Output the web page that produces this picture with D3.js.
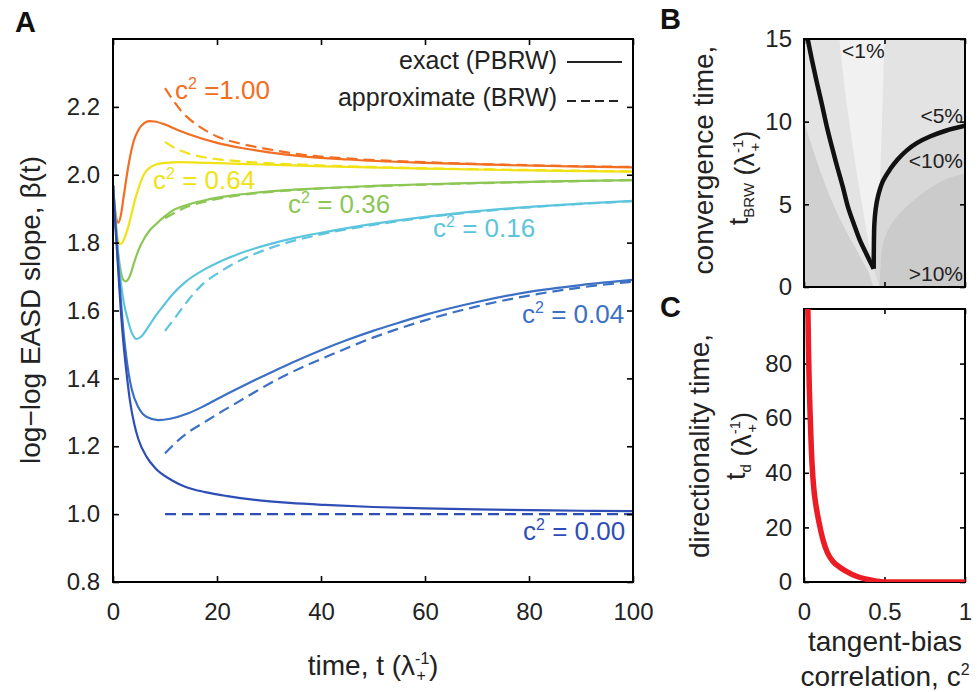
<!DOCTYPE html>
<html><head><meta charset="utf-8">
<script src="https://cdn.jsdelivr.net/npm/d3@7"></script>
<style>body{margin:0;background:#fff}svg{display:block}text{font-family:"Liberation Sans",Arial,sans-serif}</style>
</head><body><svg id="c" width="979" height="692"></svg>
<script>
// ---------- Panel A data: [time, beta] ----------
const exact100 = [[0,1.97],[0.5,1.885],[1,1.859],[1.5,1.88],[2,1.93],[3,2.03],[4,2.10],[5,2.135],[6,2.152],[7,2.158],[8,2.157],[10,2.148],[12,2.135],[15,2.117],[20,2.094],[25,2.078],[30,2.066],[36,2.055],[45,2.045],[60,2.035],[77,2.028],[90,2.024],[100,2.022]];
const approx100 = [[10,2.255],[11,2.232],[12,2.21],[13,2.19],[15,2.16],[17,2.138],[20,2.113],[25,2.09],[30,2.075],[36,2.06],[45,2.048],[60,2.037],[80,2.028],[100,2.023]];
const exact064 = [[0,1.97],[0.5,1.87],[1,1.805],[1.35,1.796],[1.8,1.80],[2.3,1.817],[3,1.85],[3.6,1.887],[4.2,1.925],[4.8,1.955],[5.4,1.982],[6.1,2.005],[7,2.02],[8,2.029],[10,2.035],[13,2.037],[16,2.036],[20,2.034],[27,2.031],[36,2.027],[45,2.023],[60,2.018],[80,2.013],[100,2.009]];
const approx064 = [[10,2.097],[12,2.078],[14.2,2.064],[17,2.053],[20,2.046],[25,2.039],[29.6,2.034],[36,2.03],[45,2.025],[60,2.019],[80,2.014],[100,2.01]];
const exact036 = [[0,1.97],[0.5,1.86],[1,1.77],[1.5,1.715],[2,1.69],[2.5,1.686],[3.2,1.70],[4,1.738],[4.9,1.778],[6,1.812],[7,1.835],[8.1,1.852],[10,1.878],[11.3,1.893],[14,1.91],[17.7,1.925],[22,1.937],[27.3,1.947],[35,1.956],[40.8,1.961],[50,1.967],[60,1.972],[70,1.976],[80,1.979],[90,1.982],[100,1.984]];
const approx036 = [[10,1.872],[12,1.889],[14,1.904],[17.7,1.921],[22,1.934],[27.3,1.945],[35,1.955],[50,1.966],[70,1.975],[100,1.984]];
const exact016 = [[0,1.97],[0.5,1.86],[1,1.76],[1.5,1.685],[2,1.63],[2.9,1.57],[3.6,1.535],[4.55,1.516],[5.5,1.524],[6.5,1.545],[8.1,1.582],[10,1.62],[11.3,1.645],[14,1.685],[17.7,1.722],[20,1.74],[24,1.766],[30.5,1.797],[35,1.814],[40.8,1.831],[50,1.855],[61.6,1.879],[70,1.893],[80.8,1.906],[90,1.915],[100,1.923]];
const approx016 = [[10,1.54],[12,1.58],[14.5,1.631],[17,1.674],[20.9,1.717],[24,1.744],[27.3,1.767],[32,1.793],[40.8,1.827],[50,1.852],[61.6,1.877],[80,1.904],[100,1.922]];
const exact004 = [[0,1.97],[0.5,1.85],[1,1.74],[1.5,1.63],[2,1.54],[2.5,1.47],[3,1.415],[3.6,1.368],[4.9,1.314],[6.5,1.286],[8.7,1.277],[11,1.281],[14.5,1.297],[17.7,1.32],[20.9,1.346],[24,1.37],[27.3,1.395],[31,1.422],[34.4,1.446],[40,1.483],[45,1.513],[50,1.54],[55,1.564],[60,1.587],[70,1.625],[80,1.655],[90,1.675],[100,1.69]];
const approx004 = [[10,1.179],[12,1.21],[14,1.236],[17.7,1.272],[20,1.294],[24,1.33],[27.3,1.36],[32,1.4],[36,1.43],[40.8,1.462],[50,1.52],[60,1.571],[70,1.612],[80,1.644],[90,1.668],[100,1.685]];
const exact000 = [[0,1.97],[0.5,1.84],[1,1.72],[1.5,1.6],[2,1.505],[2.5,1.43],[3.3,1.33],[4.1,1.265],[4.9,1.22],[6.5,1.168],[8.1,1.136],[11.3,1.1],[14,1.08],[17.7,1.065],[22,1.053],[27.3,1.042],[34,1.033],[40.8,1.027],[50,1.021],[60,1.017],[70,1.014],[80,1.012],[90,1.01],[100,1.009]];
const approx000 = [[10,1.0],[100,1.0]];

const seriesNames = ["1.00","0.64","0.36","0.16","0.04","0.00"];
const seriesColors = ["#F26E22","#F0E214","#8CC654","#5CC5DD","#3B70C4","#2F4EB5"];
const exactSeries = [exact100,exact064,exact036,exact016,exact004,exact000];
const approxSeries = [approx100,approx064,approx036,approx016,approx004,approx000];
const labelTexts = [" =1.00"," = 0.64"," = 0.36"," = 0.16"," = 0.04"," = 0.00"];
const labelPos = [[175,99],[153,189],[288,213],[433,237],[522,323],[523,540]];

const xTicksA = [0,20,40,60,80,100];
const yTicksA = [0.8,1.0,1.2,1.4,1.6,1.8,2.0,2.2];

// ---------- Panel B data: [c^2, t_BRW] ----------
const blackLeft = [[0.023,15],[0.05,13.7],[0.079,12.4],[0.11,11.1],[0.139,9.82],[0.17,8.6],[0.204,7.35],[0.24,6.1],[0.272,4.88],[0.31,3.8],[0.347,2.83],[0.39,1.95],[0.433,1.1]];
const blackRight = [[0.433,1.1],[0.434,2.5],[0.437,3.8],[0.445,4.7],[0.46,5.5],[0.49,6.4],[0.533,7.1],[0.58,7.7],[0.637,8.25],[0.7,8.7],[0.782,9.1],[0.88,9.45],[1.0,9.75]];
const wedgeLeft = [[0.22,15],[0.26,11.5],[0.31,8],[0.36,5],[0.40,2.8],[0.43,1.4]];
const wedgeRight = [[0.50,15],[0.485,10],[0.47,6],[0.455,3],[0.44,1.7],[0.43,1.4]];
const darkRight = [[0.47,0],[0.475,1.2],[0.49,2.6],[0.53,3.6],[0.6,4.5],[0.7,5.4],[0.8,6.1],[0.9,6.6],[1,6.85]];
const leftBound = [[0,10.0],[0.04,8.8],[0.08,7.6],[0.12,6.5],[0.16,5.5],[0.2,4.6],[0.25,3.6],[0.3,2.7],[0.35,1.8],[0.4,0.9],[0.43,0]];
const yTicksB = [0,5,10,15];
const xTicksBC = [0,0.5,1];

// ---------- Panel C data: [c^2, t_d] ----------
const tdCurve = [[0.024,100],[0.028,85],[0.033,71],[0.04,58],[0.046,48],[0.055,38.5],[0.065,32],[0.08,26],[0.098,20.5],[0.12,15],[0.145,10.8],[0.18,7.5],[0.22,5.5],[0.26,4],[0.33,2],[0.39,1],[0.45,0.3],[0.5,0],[0.7,0],[1,0]];
const yTicksC = [0,20,40,60,80];

const FONT = '"Liberation Sans", Arial, sans-serif';
const svg = d3.select("#c");

function styleAxis(g, size){
  g.attr("font-family", FONT).attr("font-size", size);
  g.select(".domain").remove();
  g.selectAll(".tick line").attr("stroke","#000").attr("stroke-width",1.6);
  g.selectAll(".tick text").attr("fill","#222");
}
function lambdaUnit(t, fs){
  const s = Math.round(fs*0.56);
  t.append("tspan").text(" (λ");
  t.append("tspan").attr("font-size",s).attr("dy",-fs*0.4).text("-1");
  t.append("tspan").attr("font-size",s).attr("dx",-s*0.8).attr("dy",fs*0.62).text("+");
  t.append("tspan").attr("dx",3).attr("dy",-fs*0.22).text(")");
}

// ================= Panel A =================
const A = {l:113, r:633, t:39, b:582};
const xA = d3.scaleLinear().domain([0,100]).range([A.l,A.r]);
const yA = d3.scaleLinear().domain([0.8,2.4]).range([A.b,A.t]);
svg.append("clipPath").attr("id","clipA").append("rect").attr("x",A.l).attr("y",A.t).attr("width",A.r-A.l).attr("height",A.b-A.t);

const lineA = d3.line().x(d=>xA(d[0])).y(d=>yA(d[1])).curve(d3.curveMonotoneX);
const gA = svg.append("g").attr("clip-path","url(#clipA)");
exactSeries.forEach((s,i)=>{
  gA.append("path").attr("d",lineA(s)).attr("fill","none").attr("stroke",seriesColors[i]).attr("stroke-width",2.2);
});
approxSeries.forEach((s,i)=>{
  gA.append("path").attr("d",lineA(s)).attr("fill","none").attr("stroke",seriesColors[i]).attr("stroke-width",2.2).attr("stroke-dasharray","11,6");
});

styleAxis(svg.append("g").attr("transform",`translate(0,${A.b})`).call(d3.axisBottom(xA).tickValues(xTicksA).tickSize(-6).tickSizeOuter(0).tickPadding(21).tickFormat(d3.format("d"))),24);
styleAxis(svg.append("g").attr("transform",`translate(0,${A.t})`).call(d3.axisTop(xA).tickValues(xTicksA).tickSize(-6).tickSizeOuter(0).tickFormat("")),24);
styleAxis(svg.append("g").attr("transform",`translate(${A.l},0)`).call(d3.axisLeft(yA).tickValues(yTicksA).tickSize(-6).tickSizeOuter(0).tickPadding(13).tickFormat(d3.format(".1f"))),24);
styleAxis(svg.append("g").attr("transform",`translate(${A.r},0)`).call(d3.axisRight(yA).tickValues(yTicksA).tickSize(-6).tickSizeOuter(0).tickFormat("")),24);
svg.append("rect").attr("x",A.l).attr("y",A.t).attr("width",A.r-A.l).attr("height",A.b-A.t).attr("fill","none").attr("stroke","#000").attr("stroke-width",2);

// curve labels
seriesNames.forEach((n,i)=>{
  const t = svg.append("text").attr("x",labelPos[i][0]).attr("y",labelPos[i][1]).attr("fill",seriesColors[i]).attr("font-size",26);
  t.append("tspan").text("c");
  t.append("tspan").attr("font-size",16).attr("dy",-10).text("2");
  t.append("tspan").attr("dy",10).text(labelTexts[i]);
});

// legend
svg.append("text").attr("x",557).attr("y",69).attr("text-anchor","end").attr("font-size",25).attr("fill","#222").text("exact (PBRW)");
svg.append("text").attr("x",557).attr("y",106).attr("text-anchor","end").attr("font-size",25).attr("fill","#222").text("approximate (BRW)");
svg.append("line").attr("x1",567).attr("x2",622).attr("y1",62).attr("y2",62).attr("stroke","#222").attr("stroke-width",2);
svg.append("line").attr("x1",567).attr("x2",622).attr("y1",101).attr("y2",101).attr("stroke","#222").attr("stroke-width",2).attr("stroke-dasharray","9,5");

// axis labels A
svg.append("text").attr("transform","translate(40,310) rotate(-90)").attr("text-anchor","middle").attr("font-size",28).attr("fill","#222").text("log\u2212log EASD slope, \u03b2(t)");
{
  const t = svg.append("text").attr("x",373).attr("y",675).attr("text-anchor","middle").attr("font-size",28).attr("fill","#222");
  t.append("tspan").text("time, t");
  lambdaUnit(t,28);
}
svg.append("text").attr("x",15).attr("y",32).attr("font-size",29).attr("font-weight","bold").attr("fill","#111").text("A");

// ================= Panel B =================
const B = {l:804, r:965, t:39, b:287};
const xB = d3.scaleLinear().domain([0,1]).range([B.l,B.r]);
const yB = d3.scaleLinear().domain([0,15]).range([B.b,B.t]);
svg.append("clipPath").attr("id","clipB").append("rect").attr("x",B.l).attr("y",B.t).attr("width",B.r-B.l).attr("height",B.b-B.t);
const gB = svg.append("g").attr("clip-path","url(#clipB)");
const lineB = d3.line().x(d=>xB(d[0])).y(d=>yB(d[1])).curve(d3.curveCatmullRom);
const P = (x,y)=>`L${xB(x)},${yB(y)}`;
gB.append("rect").attr("x",B.l).attr("y",B.t).attr("width",B.r-B.l).attr("height",B.b-B.t).attr("fill","#E3E3E3");
gB.append("path").attr("d",lineB(wedgeLeft.concat(wedgeRight.slice().reverse()))+"Z").attr("fill","#F1F1F1");
gB.append("path").attr("d",lineB(blackRight)+P(1,0)+P(0.47,0)+"Z").attr("fill","#D8D8D8");
gB.append("path").attr("d",lineB(darkRight)+P(1,0)+"Z").attr("fill","#CBCBCB");
gB.append("path").attr("d",lineB(leftBound)+P(0,0)+"Z").attr("fill","#D0D0D0");
gB.append("path").attr("d",lineB(blackLeft)).attr("fill","none").attr("stroke","#111").attr("stroke-width",4.5);
gB.append("path").attr("d",lineB(blackRight)).attr("fill","none").attr("stroke","#111").attr("stroke-width",4.5);

styleAxis(svg.append("g").attr("transform",`translate(0,${B.b})`).call(d3.axisBottom(xB).tickValues(xTicksBC).tickSize(-5).tickSizeOuter(0).tickFormat("")),24);
styleAxis(svg.append("g").attr("transform",`translate(0,${B.t})`).call(d3.axisTop(xB).tickValues(xTicksBC).tickSize(-5).tickSizeOuter(0).tickFormat("")),24);
styleAxis(svg.append("g").attr("transform",`translate(${B.l},0)`).call(d3.axisLeft(yB).tickValues(yTicksB).tickSize(-5).tickSizeOuter(0).tickPadding(12).tickFormat(d3.format("d"))),24);
styleAxis(svg.append("g").attr("transform",`translate(${B.r},0)`).call(d3.axisRight(yB).tickValues(yTicksB).tickSize(-5).tickSizeOuter(0).tickFormat("")),24);
svg.append("rect").attr("x",B.l).attr("y",B.t).attr("width",B.r-B.l).attr("height",B.b-B.t).attr("fill","none").attr("stroke","#000").attr("stroke-width",2);

svg.append("text").attr("x",842).attr("y",58).attr("font-size",21).attr("fill","#222").text("<1%");
svg.append("text").attr("x",963).attr("y",123).attr("text-anchor","end").attr("font-size",21).attr("fill","#222").text("<5%");
svg.append("text").attr("x",963).attr("y",168).attr("text-anchor","end").attr("font-size",21).attr("fill","#222").text("<10%");
svg.append("text").attr("x",963).attr("y",281).attr("text-anchor","end").attr("font-size",21).attr("fill","#222").text(">10%");

svg.append("text").attr("transform","translate(713,160) rotate(-90)").attr("text-anchor","middle").attr("font-size",28).attr("fill","#222").text("convergence time,");
{
  const t = svg.append("text").attr("transform","translate(748,178) rotate(-90)").attr("text-anchor","middle").attr("font-size",27).attr("fill","#222");
  t.append("tspan").text("t");
  t.append("tspan").attr("font-size",15).attr("dy",6).text("BRW");
  t.append("tspan").attr("dy",-6).text("");
  lambdaUnit(t,27);
}
svg.append("text").attr("x",660).attr("y",29).attr("font-size",29).attr("font-weight","bold").attr("fill","#111").text("B");

// ================= Panel C =================
const C = {l:804, r:965, t:309, b:582};
const xC = d3.scaleLinear().domain([0,1]).range([C.l,C.r]);
const yC = d3.scaleLinear().domain([0,100]).range([C.b,C.t]);
svg.append("clipPath").attr("id","clipC").append("rect").attr("x",C.l).attr("y",C.t).attr("width",C.r-C.l).attr("height",C.b-C.t);
const lineC = d3.line().x(d=>xC(d[0])).y(d=>yC(d[1])).curve(d3.curveMonotoneX);

styleAxis(svg.append("g").attr("transform",`translate(0,${C.b})`).call(d3.axisBottom(xC).tickValues(xTicksBC).tickSize(-5).tickSizeOuter(0).tickPadding(21).tickFormat(d=>d===0.5?"0.5":d3.format("d")(d))),24);
styleAxis(svg.append("g").attr("transform",`translate(0,${C.t})`).call(d3.axisTop(xC).tickValues(xTicksBC).tickSize(-5).tickSizeOuter(0).tickFormat("")),24);
styleAxis(svg.append("g").attr("transform",`translate(${C.l},0)`).call(d3.axisLeft(yC).tickValues(yTicksC).tickSize(-5).tickSizeOuter(0).tickPadding(12).tickFormat(d3.format("d"))),24);
styleAxis(svg.append("g").attr("transform",`translate(${C.r},0)`).call(d3.axisRight(yC).tickValues(yTicksC).tickSize(-5).tickSizeOuter(0).tickFormat("")),24);
svg.append("rect").attr("x",C.l).attr("y",C.t).attr("width",C.r-C.l).attr("height",C.b-C.t).attr("fill","none").attr("stroke","#000").attr("stroke-width",2);
svg.append("g").attr("clip-path","url(#clipC)").append("path").attr("d",lineC(tdCurve)).attr("fill","none").attr("stroke","#EC1C24").attr("stroke-width",5.5);

svg.append("text").attr("transform","translate(709,446) rotate(-90)").attr("text-anchor","middle").attr("font-size",28).attr("fill","#222").text("directionality time,");
{
  const t = svg.append("text").attr("transform","translate(745,446) rotate(-90)").attr("text-anchor","middle").attr("font-size",27).attr("fill","#222");
  t.append("tspan").text("t");
  t.append("tspan").attr("font-size",15).attr("dy",6).text("d");
  t.append("tspan").attr("dy",-6).text("");
  lambdaUnit(t,27);
}
svg.append("text").attr("x",885).attr("y",651).attr("text-anchor","middle").attr("font-size",28).attr("fill","#222").text("tangent-bias");
{
  const t = svg.append("text").attr("x",885).attr("y",686).attr("text-anchor","middle").attr("font-size",28).attr("fill","#222");
  t.append("tspan").text("correlation, c");
  t.append("tspan").attr("font-size",16).attr("dy",-11).text("2");
}
svg.append("text").attr("x",660).attr("y",317).attr("font-size",29).attr("font-weight","bold").attr("fill","#111").text("C");
</script></body></html>
